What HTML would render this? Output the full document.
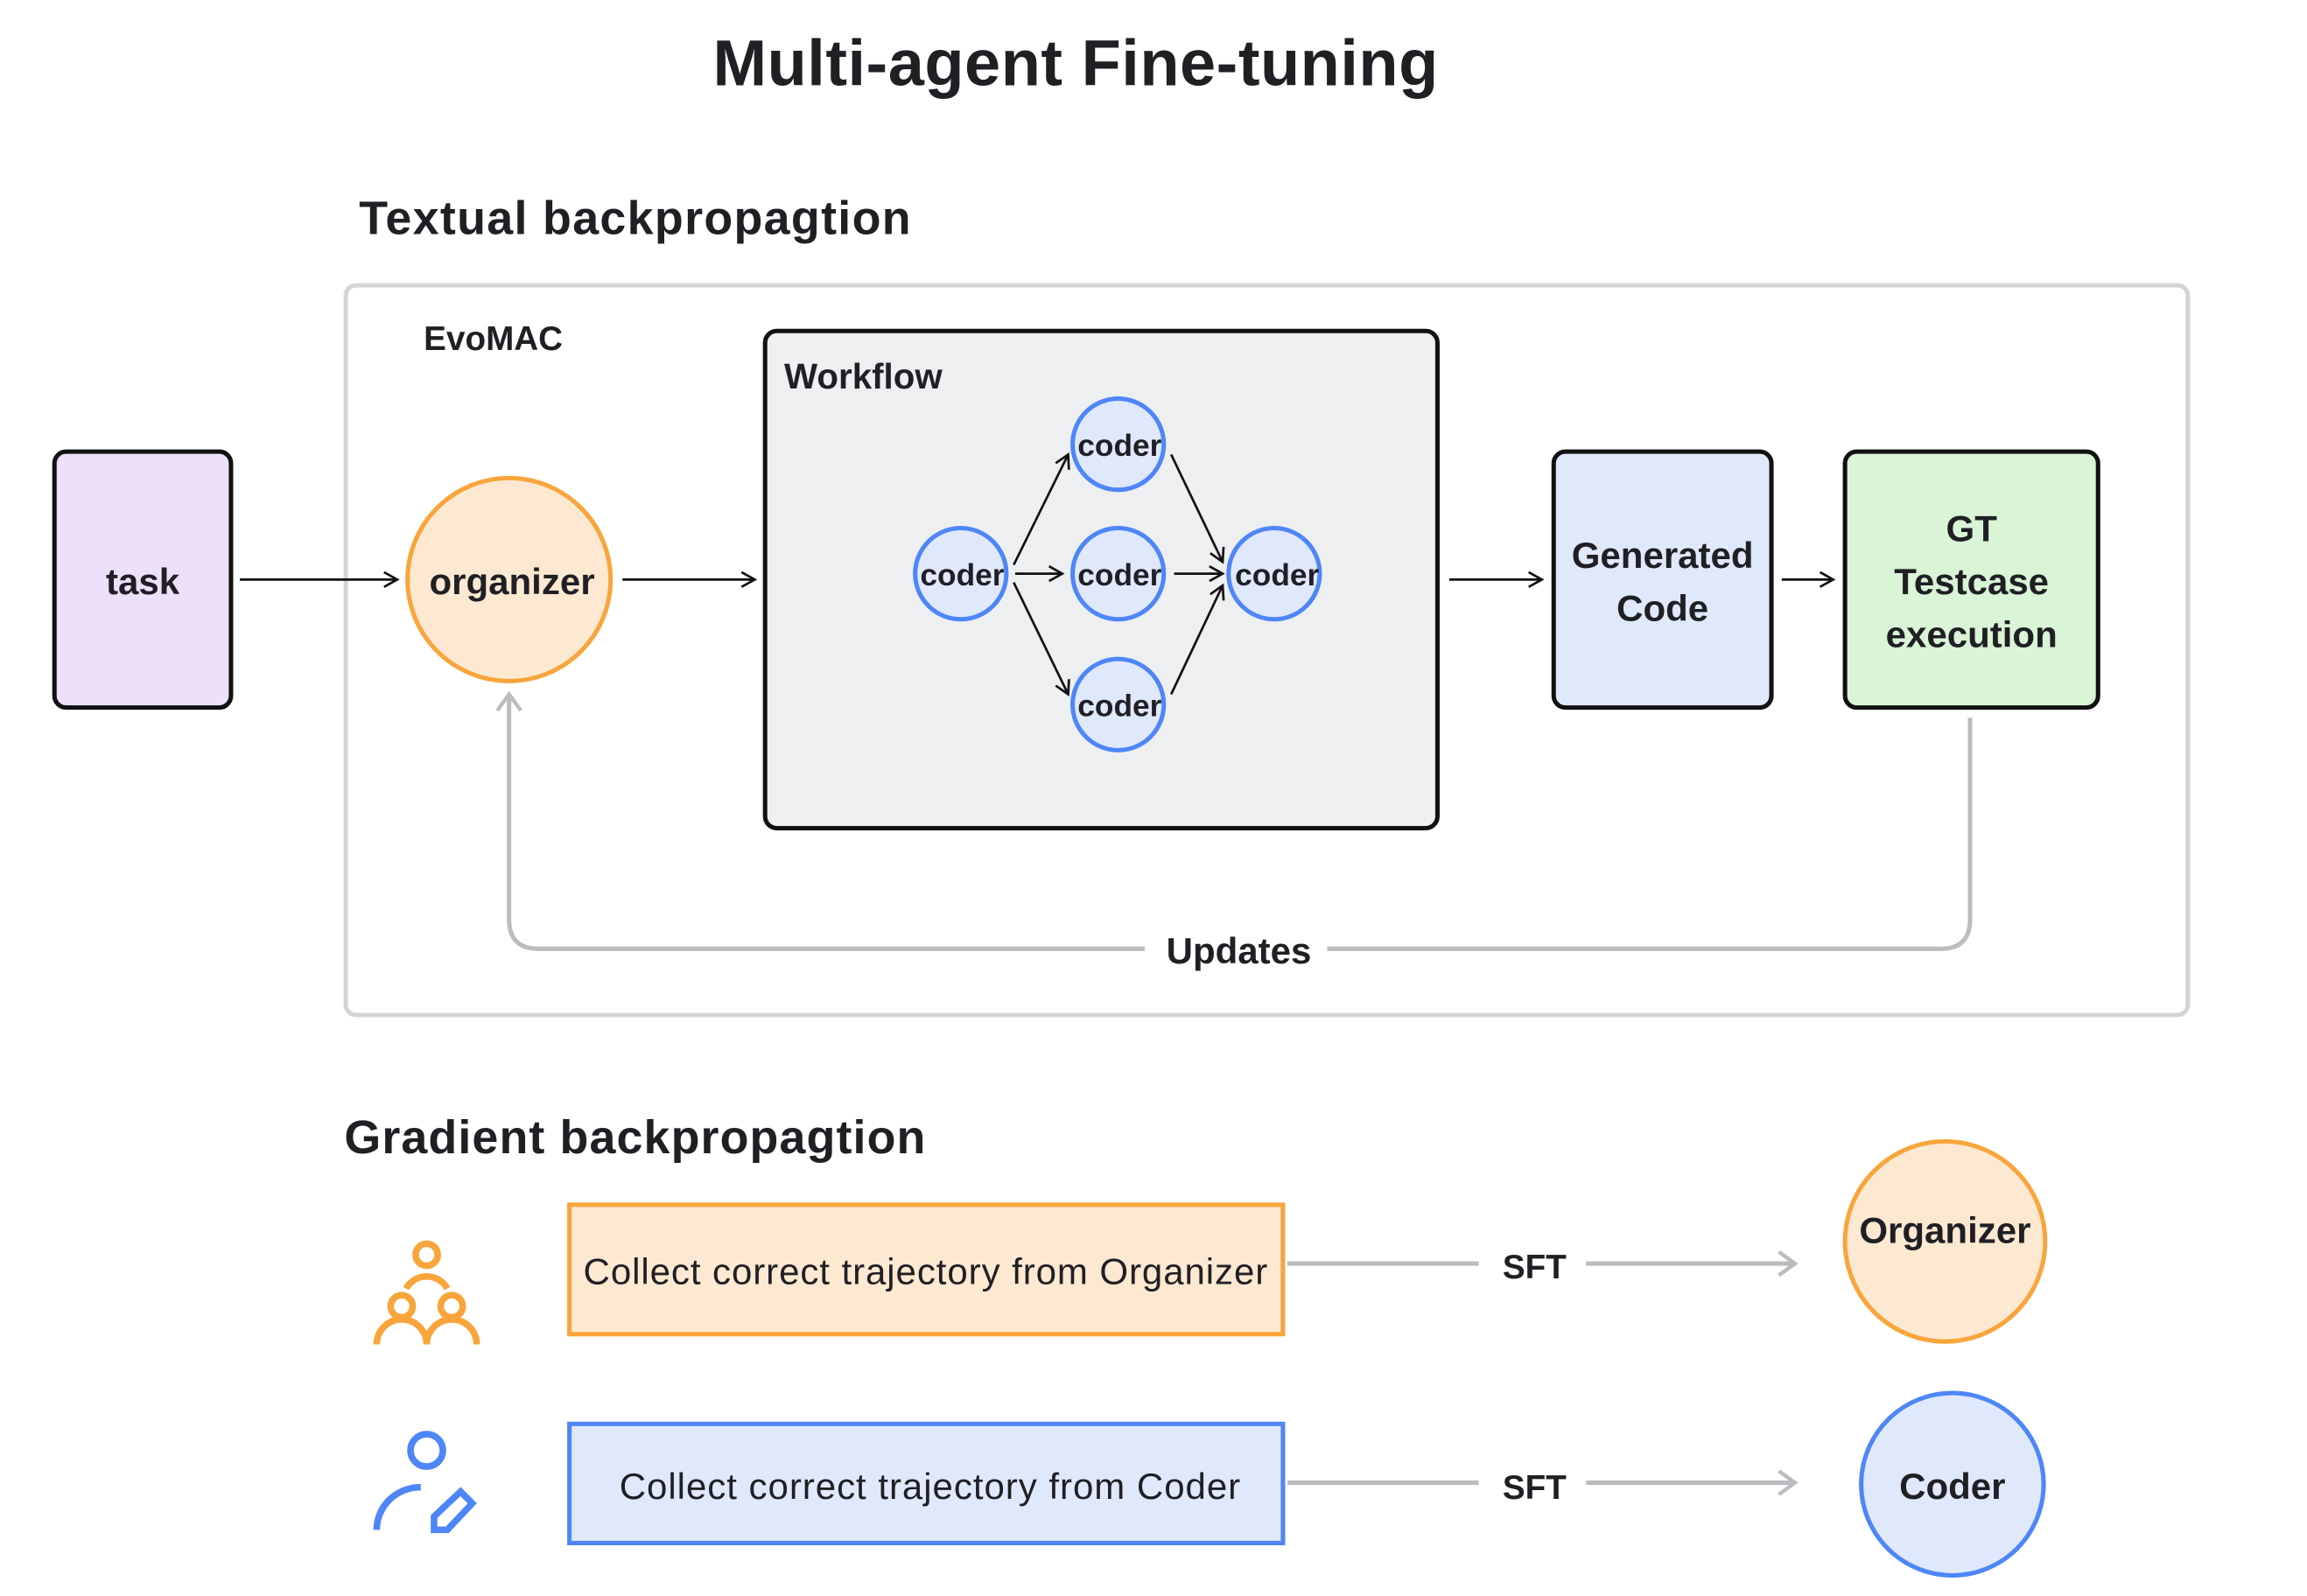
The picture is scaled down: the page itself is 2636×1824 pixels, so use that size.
<!DOCTYPE html>
<html><head><meta charset="utf-8"><style>
html,body{margin:0;padding:0;background:#fff;}
svg{display:block;}
text{font-family:"Liberation Sans",sans-serif;font-weight:bold;fill:#1f1f24;}
</style></head><body>
<svg width="2636" height="1824" viewBox="0 0 1568 1085" xmlns="http://www.w3.org/2000/svg">
<defs>
<marker id="a" markerWidth="12" markerHeight="12" refX="10" refY="6" orient="auto" markerUnits="userSpaceOnUse">
<path d="M1,1 L10,6 L1,11" fill="none" stroke="#111" stroke-width="1.6"/></marker>
<marker id="g" markerWidth="16" markerHeight="18" refX="13" refY="9" orient="auto" markerUnits="userSpaceOnUse">
<path d="M2,1 L13,9 L2,17" fill="none" stroke="#bcbcc0" stroke-width="2.6"/></marker>
</defs>
<text x="731" y="58" font-size="44" text-anchor="middle" textLength="493">Multi-agent Fine-tuning</text>
<text x="244" y="159" font-size="32" textLength="375">Textual backpropagtion</text>
<rect x="235" y="194" width="1252" height="496" rx="7" fill="none" stroke="#d4d4d8" stroke-width="3"/>
<text x="288" y="238" font-size="23">EvoMAC</text>

<rect x="37" y="307" width="120" height="174" rx="8" fill="#ece0fb" stroke="#111" stroke-width="3"/>
<text x="97" y="404" font-size="25" text-anchor="middle">task</text>
<line x1="163" y1="394" x2="270" y2="394" stroke="#111" stroke-width="1.6" marker-end="url(#a)"/>
<circle cx="346" cy="394" r="69" fill="#fde8d1" stroke="#f9a53c" stroke-width="3"/>
<text x="348" y="404" font-size="25" text-anchor="middle">organizer</text>
<line x1="423" y1="394" x2="513" y2="394" stroke="#111" stroke-width="1.6" marker-end="url(#a)"/>

<rect x="520" y="225" width="457" height="338" rx="8" fill="#eeeff1" stroke="#111" stroke-width="3"/>
<text x="533" y="264" font-size="24">Workflow</text>
<g fill="#e0e8fc" stroke="#4f86f7" stroke-width="3">
<circle cx="653" cy="390" r="31"/><circle cx="760" cy="302" r="31"/><circle cx="760" cy="390" r="31"/>
<circle cx="760" cy="479" r="31"/><circle cx="866" cy="390" r="31"/></g>
<g font-size="21" text-anchor="middle">
<text x="654" y="398">coder</text><text x="761" y="310">coder</text><text x="761" y="398">coder</text>
<text x="761" y="487">coder</text><text x="868" y="398">coder</text></g>
<g stroke="#111" stroke-width="1.6" marker-end="url(#a)">
<line x1="690" y1="390" x2="722" y2="390"/><line x1="798" y1="390" x2="831" y2="390"/>
<line x1="689" y1="384" x2="726" y2="309"/><line x1="689" y1="396" x2="726" y2="472"/>
<line x1="796" y1="309" x2="831" y2="382"/><line x1="796" y1="472" x2="831" y2="398"/>
<line x1="985" y1="394" x2="1048" y2="394"/><line x1="1211" y1="394" x2="1246" y2="394"/></g>

<rect x="1056" y="307" width="148" height="174" rx="8" fill="#e0e8fc" stroke="#111" stroke-width="3"/>
<text x="1130" y="386" font-size="25" text-anchor="middle">Generated</text>
<text x="1130" y="422" font-size="25" text-anchor="middle">Code</text>
<rect x="1254" y="307" width="172" height="174" rx="8" fill="#d9f4d6" stroke="#111" stroke-width="3"/>
<text x="1340" y="368" font-size="25" text-anchor="middle">GT</text>
<text x="1340" y="404" font-size="25" text-anchor="middle">Testcase</text>
<text x="1340" y="440" font-size="25" text-anchor="middle">execution</text>

<path d="M1339,488 L1339,625 Q1339,645 1319,645 L902,645" fill="none" stroke="#bcbcc0" stroke-width="3"/>
<path d="M778,645 L366,645 Q346,645 346,625 L346,472" fill="none" stroke="#bcbcc0" stroke-width="3" marker-end="url(#g)"/>
<text x="842" y="655" font-size="25" text-anchor="middle">Updates</text>

<text x="234" y="784" font-size="32" textLength="395">Gradient backpropagtion</text>
<g fill="none" stroke="#f9a53c" stroke-width="4.5">
<path d="M276,876 A16,16 0 0 1 304,876"/>
<circle cx="290" cy="853" r="7.5"/><circle cx="273" cy="888" r="7.5"/><circle cx="307" cy="888" r="7.5"/>
<path d="M256,914 A17,17 0 0 1 290,914 A17,17 0 0 1 324,914"/></g>
<g fill="none" stroke="#4f86f7" stroke-width="4.5">
<circle cx="290" cy="986" r="11"/>
<path d="M256,1040 A30,29 0 0 1 286,1011"/>
<path d="M295,1031 L313,1014 L321,1022 L304,1040 L295,1040 Z"/></g>

<rect x="387" y="819" width="485" height="88" fill="#fde8d1" stroke="#f9a53c" stroke-width="3"/>
<text x="629" y="873" font-size="25" text-anchor="middle" textLength="465" style="font-weight:normal">Collect correct trajectory from Organizer</text>
<line x1="875" y1="859" x2="1005" y2="859" stroke="#bcbcc0" stroke-width="3"/>
<text x="1043" y="869" font-size="23" text-anchor="middle">SFT</text>
<line x1="1078" y1="859" x2="1220" y2="859" stroke="#bcbcc0" stroke-width="3" marker-end="url(#g)"/>
<circle cx="1322" cy="844" r="68" fill="#fde8d1" stroke="#f9a53c" stroke-width="3"/>
<text x="1322" y="845" font-size="25" text-anchor="middle">Organizer</text>

<rect x="387" y="968" width="485" height="81" fill="#e0e8fc" stroke="#4f86f7" stroke-width="3"/>
<text x="632" y="1019" font-size="25" text-anchor="middle" textLength="422" style="font-weight:normal">Collect correct trajectory from Coder</text>
<line x1="875" y1="1008" x2="1005" y2="1008" stroke="#bcbcc0" stroke-width="3"/>
<text x="1043" y="1019" font-size="23" text-anchor="middle">SFT</text>
<line x1="1078" y1="1008" x2="1220" y2="1008" stroke="#bcbcc0" stroke-width="3" marker-end="url(#g)"/>
<circle cx="1327" cy="1009" r="62" fill="#e0e8fc" stroke="#4f86f7" stroke-width="3"/>
<text x="1327" y="1019" font-size="25" text-anchor="middle">Coder</text>
</svg>
</body></html>
